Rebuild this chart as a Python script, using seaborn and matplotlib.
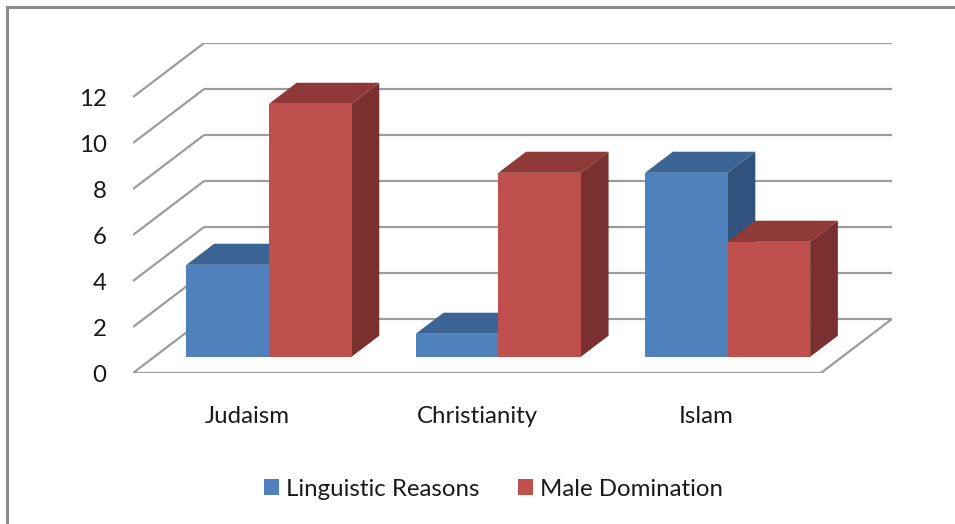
import numpy as np
import pandas as pd
import matplotlib
matplotlib.use("Agg")
import matplotlib.pyplot as plt
from matplotlib.patches import Polygon, Rectangle
import seaborn as sns

categories = ["Judaism", "Christianity", "Islam"]
series = ["Linguistic Reasons", "Male Domination"]
linguistic = [4, 1, 8]
male = [11, 8, 5]
yticks = [0, 2, 4, 6, 8, 10, 12]

front_colors = ["#4F81BD", "#C0504D"]
top_colors = ["#3C6494", "#8F3A38"]
side_colors = ["#30527D", "#7A302E"]
grid_color = "#9C9C9C"

df = pd.DataFrame({
    "Religion": categories * 2,
    "Series": [series[0]] * 3 + [series[1]] * 3,
    "Value": linguistic + male,
})

sns.set_theme(style="white")
plt.rcParams["font.family"] = ["Lato", "DejaVu Sans"]
FS = 17.3

W, H = 955, 524
fig = plt.figure(figsize=(W / 100, H / 100), dpi=100)

# 3D projection offsets in data units (full floor depth)
DX = 0.31
DY = 2.35
x0, x1 = -0.5, 2.5
ymax = 12

ax = fig.add_axes([133 / W, (H - 373) / H, (892 - 133) / W, 330 / H])
sns.barplot(data=df, x="Religion", y="Value", hue="Series", hue_order=series,
            order=categories, palette=front_colors, width=0.72, ax=ax,
            saturation=1, edgecolor="none", linewidth=0)
ax.set_xlim(x0, x1 + DX)
ax.set_ylim(0, ymax + DY)

# walls / floor
lkw = dict(color=grid_color, lw=1.6, zorder=1, solid_capstyle="butt")
for v in yticks:
    ax.plot([x0, x0 + DX], [v, v + DY], **lkw)
    ax.plot([x0 + DX, x1 + DX], [v + DY, v + DY], **lkw)
ax.plot([x0, x1], [0, 0], **lkw)
ax.plot([x1, x1 + DX], [0, DY], **lkw)

# bars: shift into the middle of the depth and add top/side faces
f_front = 0.30
f_depth = 0.39
sx, sy = f_front * DX, f_front * DY
bx, by = f_depth * DX, f_depth * DY
for j, cont in enumerate(ax.containers):
    for i, p in enumerate(cont.patches):
        p.set_x(p.get_x() + sx)
        p.set_y(p.get_y() + sy)
        z = 3 + 2 * i + j
        p.set_zorder(z + 0.2)
        xl, yb = p.get_x(), p.get_y()
        w, h = p.get_width(), p.get_height()
        xr, yt = xl + w, yb + h
        top = Polygon([(xl, yt), (xr, yt), (xr + bx, yt + by), (xl + bx, yt + by)],
                      closed=True, facecolor=top_colors[j], edgecolor="none", zorder=z)
        side = Polygon([(xr, yb), (xr + bx, yb + by), (xr + bx, yt + by), (xr, yt)],
                       closed=True, facecolor=side_colors[j], edgecolor="none", zorder=z)
        ax.add_patch(top)
        ax.add_patch(side)

for s in ax.spines.values():
    s.set_visible(False)
ax.set_yticks(yticks)
ax.set_yticklabels([str(v) for v in yticks])
ax.tick_params(axis="y", length=0, pad=19, labelsize=FS, labelcolor="#1a1a1a")
ax.tick_params(axis="x", length=0, pad=24, labelsize=FS, labelcolor="#1a1a1a")
ax.set_xlabel("")
ax.set_ylabel("")
ax.grid(False)

sns.move_legend(ax, "center", bbox_to_anchor=(0.517, 1 - 489 / H),
                bbox_transform=fig.transFigure, ncol=2, frameon=False, title=None,
                fontsize=FS, handlelength=0.62, handleheight=0.62,
                handletextpad=0.3, columnspacing=1.6)
for t in ax.get_legend().get_texts():
    t.set_color("#1a1a1a")

# outer chart border (extends beyond the image on right/bottom)
fig.patches.append(Rectangle((7 / W, -0.1), 1.2, 1 - 7 / H + 0.1,
                             transform=fig.transFigure, fill=False,
                             edgecolor="#8C8C8C", lw=2.2, zorder=0))

fig.savefig("out.png", dpi=100)
